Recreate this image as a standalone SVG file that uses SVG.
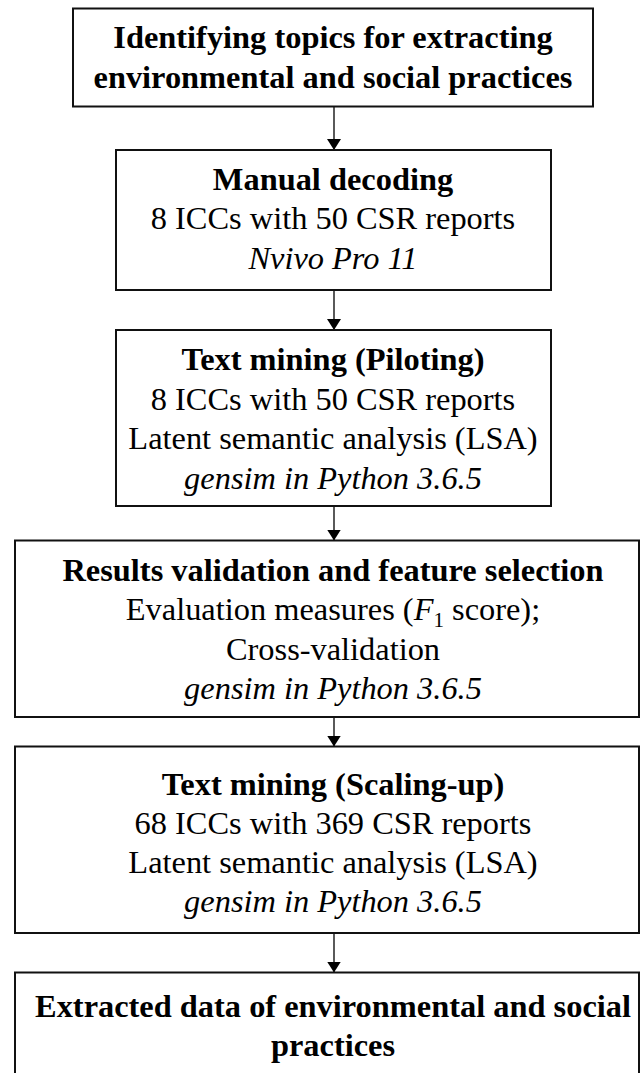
<svg xmlns="http://www.w3.org/2000/svg" width="640" height="1073" viewBox="0 0 640 1073">
<defs>
<style>
.box{fill:#fff;stroke:#111;stroke-width:2}
.c{stroke:#000;stroke-width:1.3;fill:none}
</style>
<marker id="ah" viewBox="0 0 11 14" refX="11" refY="7" markerWidth="11" markerHeight="14" markerUnits="userSpaceOnUse" orient="auto">
<path d="M0,0 L11,7 L0,14 z" fill="#000"/>
</marker>
</defs>
<rect width="640" height="1073" fill="#fff"/>
<g id="connectors">
<line class="c" x1="334" y1="107" x2="334" y2="150" marker-end="url(#ah)"/>
<line class="c" x1="334" y1="290" x2="334" y2="330" marker-end="url(#ah)"/>
<line class="c" x1="334" y1="506" x2="334" y2="540.5" marker-end="url(#ah)"/>
<line class="c" x1="334" y1="717" x2="334" y2="746.5" marker-end="url(#ah)"/>
<line class="c" x1="334" y1="933" x2="334" y2="972.5" marker-end="url(#ah)"/>
</g>
<g font-family="Liberation Serif" font-size="32.4" text-anchor="middle" fill="#000">
<g id="n1">
<rect class="box" x="73" y="8.5" width="520" height="98"/>
<text x="333" y="48" font-weight="bold">Identifying topics for extracting</text>
<text x="333" y="88" font-weight="bold">environmental and social practices</text>
</g>
<g id="n2">
<rect class="box" x="116" y="150" width="435" height="140"/>
<text x="333" y="190" font-weight="bold">Manual decoding</text>
<text x="333" y="229">8 ICCs with 50 CSR reports</text>
<text x="333" y="269" font-style="italic">Nvivo Pro 11</text>
</g>
<g id="n3">
<rect class="box" x="116" y="330" width="435" height="176"/>
<text x="333" y="370" font-weight="bold">Text mining (Piloting)</text>
<text x="333" y="410">8 ICCs with 50 CSR reports</text>
<text x="333" y="449">Latent semantic analysis (LSA)</text>
<text x="333" y="489" font-style="italic">gensim in Python 3.6.5</text>
</g>
<g id="n4">
<rect class="box" x="15" y="540.5" width="624" height="176.5"/>
<text x="333" y="581" font-weight="bold">Results validation and feature selection</text>
<text x="333" y="620">Evaluation measures (<tspan font-style="italic">F</tspan><tspan font-size="21" dy="7">1</tspan><tspan dy="-7"> score);</tspan></text>
<text x="333" y="660">Cross-validation</text>
<text x="333" y="699" font-style="italic">gensim in Python 3.6.5</text>
</g>
<g id="n5">
<rect class="box" x="15" y="746.5" width="624" height="186.5"/>
<text x="333" y="795" font-weight="bold">Text mining (Scaling-up)</text>
<text x="333" y="834">68 ICCs with 369 CSR reports</text>
<text x="333" y="873">Latent semantic analysis (LSA)</text>
<text x="333" y="912" font-style="italic">gensim in Python 3.6.5</text>
</g>
<g id="n6">
<rect class="box" x="15" y="972.5" width="624" height="120"/>
<text x="333" y="1017" font-weight="bold">Extracted data of environmental and social</text>
<text x="333" y="1056" font-weight="bold">practices</text>
</g>
</g>
</svg>
